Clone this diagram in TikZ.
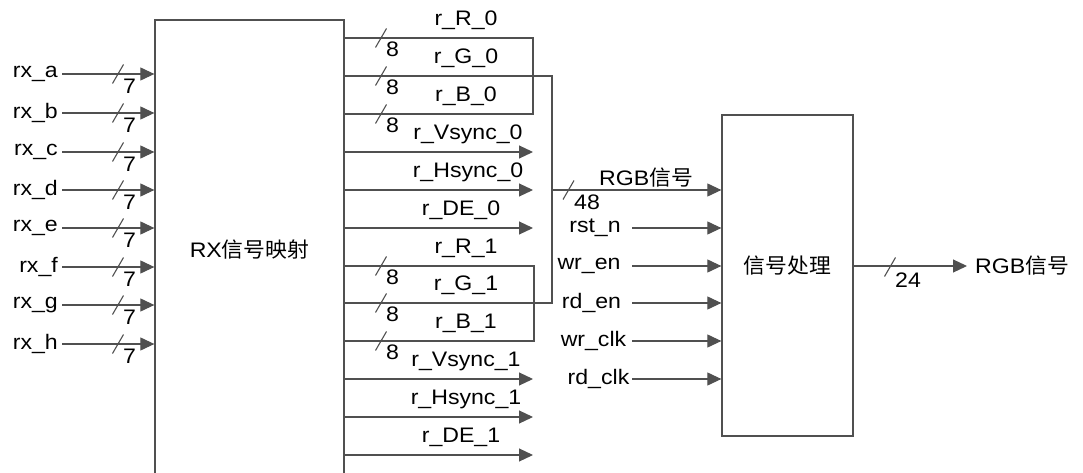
\documentclass[tikz,border=0pt]{standalone}
\usepackage{fontspec}
\setmainfont{Liberation Sans}[FakeStretch=1.1]
\newfontfamily\cjk{Noto Sans CJK SC}[FakeStretch=1.04]
\usetikzlibrary{arrows.meta,positioning}
\definecolor{linegray}{RGB}{80,80,80}

\begin{document}
\begin{tikzpicture}[x=1pt,y=-1pt]
\tikzset{
  block/.style={draw=linegray,line width=1.3pt,inner sep=0pt,font=\fontsize{21}{25}\selectfont},
  wire/.style={draw=linegray,line width=1.1pt},
  directed/.style={wire,-{Triangle[length=14pt,width=13pt]}},
  siglabel/.style={font=\fontsize{21}{25}\selectfont,inner sep=1pt},
  buswidth/.style={siglabel,anchor=west,inner sep=0pt}
}
\useasboundingbox (0,0) rectangle (1083,473);
\clip (0,0) rectangle (1083,473);
% blocks
\node[block,minimum width=189pt,minimum height=460pt] (n_rx) at (249.5,250) {RX{\cjk 信号映射}};
\node[block,minimum width=131pt,minimum height=321pt] (n_proc) at (787.5,275.5) {};
\node[siglabel] (t_proc) at (787.5,266) {\cjk 信号处理};
% inputs of RX block
\node[siglabel,anchor=east,inner sep=4pt] (l_rxa) at (62,74) {rx\_a};
\node[siglabel,anchor=east,inner sep=4pt] (l_rxb) at (62,113) {rx\_b};
\node[siglabel,anchor=east,inner sep=4pt] (l_rxc) at (62,152) {rx\_c};
\node[siglabel,anchor=east,inner sep=4pt] (l_rxd) at (62,190) {rx\_d};
\node[siglabel,anchor=east,inner sep=4pt] (l_rxe) at (62,228) {rx\_e};
\node[siglabel,anchor=east,inner sep=4pt] (l_rxf) at (62,267) {rx\_f};
\node[siglabel,anchor=east,inner sep=4pt] (l_rxg) at (62,305) {rx\_g};
\node[siglabel,anchor=east,inner sep=4pt] (l_rxh) at (62,344) {rx\_h};
\draw[directed] (l_rxa) -- (l_rxa -| n_rx.west);
\draw[directed] (l_rxb) -- (l_rxb -| n_rx.west);
\draw[directed] (l_rxc) -- (l_rxc -| n_rx.west);
\draw[directed] (l_rxd) -- (l_rxd -| n_rx.west);
\draw[directed] (l_rxe) -- (l_rxe -| n_rx.west);
\draw[directed] (l_rxf) -- (l_rxf -| n_rx.west);
\draw[directed] (l_rxg) -- (l_rxg -| n_rx.west);
\draw[directed] (l_rxh) -- (l_rxh -| n_rx.west);
\draw[wire] (118,74) ++(-5.5,9.5) -- ++(11,-19);
\draw[wire] (118,113) ++(-5.5,9.5) -- ++(11,-19);
\draw[wire] (118,152) ++(-5.5,9.5) -- ++(11,-19);
\draw[wire] (118,190) ++(-5.5,9.5) -- ++(11,-19);
\draw[wire] (118,228) ++(-5.5,9.5) -- ++(11,-19);
\draw[wire] (118,267) ++(-5.5,9.5) -- ++(11,-19);
\draw[wire] (118,305) ++(-5.5,9.5) -- ++(11,-19);
\draw[wire] (118,344) ++(-5.5,9.5) -- ++(11,-19);
\node[buswidth] (w_rxa) at (123,86) {7};
\node[buswidth] (w_rxb) at (123,125) {7};
\node[buswidth] (w_rxc) at (123,164) {7};
\node[buswidth] (w_rxd) at (123,202) {7};
\node[buswidth] (w_rxe) at (123,240) {7};
\node[buswidth] (w_rxf) at (123,279) {7};
\node[buswidth] (w_rxg) at (123,317) {7};
\node[buswidth] (w_rxh) at (123,356) {7};
% outputs of RX block
\node[siglabel] (l_R0) at (466,20) {r\_R\_0};
\node[siglabel] (l_G0) at (466,58) {r\_G\_0};
\node[siglabel] (l_B0) at (466,96) {r\_B\_0};
\node[siglabel] (l_V0) at (468,134) {r\_Vsync\_0};
\node[siglabel] (l_H0) at (468,172) {r\_Hsync\_0};
\node[siglabel] (l_D0) at (461,210) {r\_DE\_0};
\node[siglabel] (l_R1) at (466,248) {r\_R\_1};
\node[siglabel] (l_G1) at (466,285) {r\_G\_1};
\node[siglabel] (l_B1) at (466,323) {r\_B\_1};
\node[siglabel] (l_V1) at (466,361) {r\_Vsync\_1};
\node[siglabel] (l_H1) at (466,399) {r\_Hsync\_1};
\node[siglabel] (l_D1) at (461,437) {r\_DE\_1};
\coordinate (c_R0) at (533,38);
\coordinate (c_G0) at (552,76);
\coordinate (c_B0) at (533,114);
\coordinate (e_V0) at (533,152);
\coordinate (e_H0) at (533,190);
\coordinate (e_D0) at (533,228);
\coordinate (c_R1) at (534,266);
\coordinate (c_G1) at (552,303);
\coordinate (c_B1) at (534,341);
\coordinate (e_V1) at (533,379);
\coordinate (e_H1) at (533,417);
\coordinate (e_D1) at (533,455);
\draw[wire] (n_rx.east |- c_R0) -- (c_R0) -- (c_B0) -- (n_rx.east |- c_B0);
\draw[wire] (n_rx.east |- c_G0) -- (c_G0) -- (c_G1) -- (n_rx.east |- c_G1);
\draw[wire] (n_rx.east |- c_R1) -- (c_R1) -- (c_B1) -- (n_rx.east |- c_B1);
\draw[directed] (n_rx.east |- e_V0) -- (e_V0);
\draw[directed] (n_rx.east |- e_H0) -- (e_H0);
\draw[directed] (n_rx.east |- e_D0) -- (e_D0);
\draw[directed] (n_rx.east |- e_V1) -- (e_V1);
\draw[directed] (n_rx.east |- e_H1) -- (e_H1);
\draw[directed] (n_rx.east |- e_D1) -- (e_D1);
\draw[wire] (381,38) ++(-5.5,9.5) -- ++(11,-19);
\draw[wire] (381,76) ++(-5.5,9.5) -- ++(11,-19);
\draw[wire] (381,114) ++(-5.5,9.5) -- ++(11,-19);
\draw[wire] (381,266) ++(-5.5,9.5) -- ++(11,-19);
\draw[wire] (381,303) ++(-5.5,9.5) -- ++(11,-19);
\draw[wire] (381,341) ++(-5.5,9.5) -- ++(11,-19);
\node[buswidth] (w_R0) at (386,49) {8};
\node[buswidth] (w_G0) at (386,87) {8};
\node[buswidth] (w_B0) at (386,125) {8};
\node[buswidth] (w_R1) at (386,277) {8};
\node[buswidth] (w_G1) at (386,314) {8};
\node[buswidth] (w_B1) at (386,352) {8};
% inputs of processing block
\coordinate (c_bus) at (552,190);
\draw[directed] (c_bus) -- (c_bus -| n_proc.west);
\draw[wire] (568.5,190) ++(-5.5,9.5) -- ++(11,-19);
\node[buswidth] (w_bus) at (574,202) {48};
\node[siglabel] (l_rgbin) at (646,178) {RGB{\cjk 信号}};
\node[siglabel] (l_rst) at (595,228) {rst\_n};
\node[siglabel] (l_wren) at (589,266) {wr\_en};
\node[siglabel] (l_rden) at (591.5,303) {rd\_en};
\node[siglabel] (l_wrclk) at (593.5,341) {wr\_clk};
\node[siglabel] (l_rdclk) at (598.5,379) {rd\_clk};
\coordinate (s_rst) at (632,228);
\coordinate (s_wren) at (632,266);
\coordinate (s_rden) at (632,303);
\coordinate (s_wrclk) at (632,341);
\coordinate (s_rdclk) at (632,379);
\draw[directed] (s_rst) -- (s_rst -| n_proc.west);
\draw[directed] (s_wren) -- (s_wren -| n_proc.west);
\draw[directed] (s_rden) -- (s_rden -| n_proc.west);
\draw[directed] (s_wrclk) -- (s_wrclk -| n_proc.west);
\draw[directed] (s_rdclk) -- (s_rdclk -| n_proc.west);
% output of processing block
\coordinate (e_out) at (967,266);
\draw[directed] (n_proc.east |- e_out) -- (e_out);
\draw[wire] (890,267) ++(-5.5,9.5) -- ++(11,-19);
\node[buswidth] (w_out) at (895,280) {24};
\node[siglabel,anchor=west,inner sep=0pt] (l_rgbout) at (975,266) {RGB{\cjk 信号}};
\end{tikzpicture}
\end{document}
